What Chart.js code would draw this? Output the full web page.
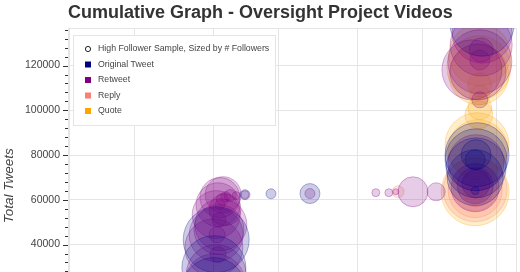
<!DOCTYPE html>
<html>
<head>
<meta charset="utf-8">
<script src="https://cdn.jsdelivr.net/npm/chart.js@4.4.1/dist/chart.umd.min.js"></script>
<style>
  html, body { margin: 0; padding: 0; background: #fff; overflow: hidden; }
  #wrap { width: 520px; height: 272px; overflow: hidden; }
</style>
</head>
<body>
<div id="wrap"><canvas id="tweets" width="520" height="358"></canvas></div>
<script>
// each point: [day since Jul 1, cumulative total tweets, followers (thousands)]
const originalTweet = [
  [31.0, 19900, 1024], [31.0, 29700, 1024], [31.5, 42200, 1089],
  [37.7, 62300, 25], [43.3, 62700, 25], [51.7, 62800, 100],
  [88.8, 138500, 1024],
  [87.7, 80200, 1024], [87.5, 77900, 961], [87.5, 74300, 900], [87.3, 69900, 784],
  [87.5, 80200, 225], [87.3, 77900, 100], [87.3, 64100, 16]
];
const retweet = [
  [31.2, 22100, 961], [31.5, 26600, 900], [31.0, 38600, 841], [32.5, 48900, 676],
  [31.5, 44400, 729], [32.1, 46700, 625],
  [31.5, 53400, 576], [31.9, 57800, 484], [32.3, 61000, 400], [33.0, 62300, 324],
  [33.4, 55600, 256],
  [31.9, 35500, 64], [31.7, 44400, 64], [32.1, 51100, 49], [32.3, 57800, 25],
  [32.8, 60100, 36], [33.6, 61400, 25], [34.5, 61900, 36], [35.8, 61900, 16],
  [37.7, 62300, 16], [51.7, 62800, 25],
  [65.9, 63200, 16], [68.7, 63200, 16], [70.2, 63600, 9], [73.9, 63600, 225], [78.9, 63600, 81],
  [88.8, 134500, 900], [88.6, 129200, 961], [88.3, 121700, 1024], [87.9, 117200, 784],
  [86.6, 118100, 900], [88.6, 127000, 144], [88.3, 122500, 100], [88.3, 104700, 64],
  [87.5, 76600, 784], [87.3, 65400, 576], [87.3, 66300, 324], [87.5, 67200, 196]
];
const reply = [
  [70.7, 63600, 36],
  [87.3, 64500, 1024], [87.3, 64100, 729], [87.3, 64900, 484],
  [87.5, 64500, 289], [87.3, 64100, 144], [87.3, 64500, 64]
];
const quote = [
  [87.3, 63600, 1156],
  [88.3, 124800, 961], [88.1, 119000, 1024], [88.1, 115900, 900],
  [88.3, 111400, 144], [88.3, 106900, 100], [88.3, 101100, 144], [88.1, 98000, 196],
  [87.7, 84600, 1024], [87.9, 82400, 900]
];

const seriesNames = ['Original Tweet', 'Retweet', 'Reply', 'Quote'];
const seriesColors = ['0,0,128', '128,0,128', '250,128,114', '255,165,0'];
const xGridDays = [0, 14, 31, 45, 62, 76, 92];   // Jul 1, Jul 15, Aug 1 ... Oct 1
const yTicks = [0, 20000, 40000, 60000, 80000, 100000, 120000];

const toPoints = rows => rows.map(([d, t, f]) => ({ x: d, y: t, r: Math.sqrt(f) }));

const datasets = [originalTweet, retweet, reply, quote].map((rows, i) => ({
  label: seriesNames[i],
  data: toPoints(rows),
  backgroundColor: 'rgba(' + seriesColors[i] + ',0.2)',
  borderColor: 'rgba(' + seriesColors[i] + ',0.3)',
  borderWidth: 1,
  hoverRadius: 0,
  clip: 0
}));

const frame = {
  id: 'frame',
  beforeDatasetsDraw(chart) {
    const { ctx, chartArea: a } = chart;
    ctx.save();
    ctx.strokeStyle = '#e5e5e5';
    ctx.lineWidth = 1;
    ctx.strokeRect(Math.round(a.left) + 0.5, Math.round(a.top) + 0.5, a.width, a.height);
    ctx.restore();
  },
  afterDraw(chart) {
    const { ctx, chartArea: a, scales } = chart;
    const y = scales.y;
    ctx.save();
    // y tick marks (major and minor)
    ctx.strokeStyle = '#333';
    ctx.lineWidth = 1;
    const step = (yTicks[1] - yTicks[0]) / 5;
    ctx.beginPath();
    for (let v = yTicks[0]; v <= y.max; v += step) {
      const py = Math.round(y.getPixelForValue(v)) + 0.5;
      if (py < a.top) continue;
      const len = (v % (step * 5) === 0) ? 5 : 3;
      ctx.moveTo(a.left - len, py);
      ctx.lineTo(a.left, py);
    }
    ctx.stroke();

    // legend
    const bx = a.left + 5, by = a.top + 7;
    ctx.fillStyle = '#fff';
    ctx.fillRect(bx, by, 202, 90);
    ctx.strokeStyle = '#e5e5e5';
    ctx.strokeRect(bx + 0.5, by + 0.5, 202, 90);
    ctx.font = '8.75px "Liberation Sans", Arial, sans-serif';
    ctx.textBaseline = 'middle';
    const rows = ['High Follower Sample, Sized by # Followers'].concat(seriesNames);
    rows.forEach((txt, i) => {
      const ry = by + 14 + i * 15.5;
      if (i === 0) {
        ctx.strokeStyle = '#222';
        ctx.beginPath();
        ctx.arc(bx + 15, ry, 2.6, 0, Math.PI * 2);
        ctx.stroke();
      } else {
        ctx.fillStyle = 'rgb(' + seriesColors[i - 1] + ')';
        ctx.fillRect(bx + 12, ry - 3, 6, 6);
      }
      ctx.fillStyle = '#444';
      ctx.fillText(txt, bx + 25, ry);
    });
    ctx.restore();
  }
};

Chart.defaults.font.family = '"Liberation Sans", Arial, sans-serif';

new Chart(document.getElementById('tweets'), {
  type: 'bubble',
  data: { datasets },
  plugins: [frame],
  options: {
    responsive: false,
    animation: false,
    events: [],
    layout: { autoPadding: false, padding: { left: 0, right: 4, top: 0, bottom: 0 } },
    plugins: {
      legend: { display: false },
      tooltip: { enabled: false },
      title: {
        display: true,
        text: 'Cumulative Graph - Oversight Project Videos',
        align: 'start',
        fullSize: false,
        color: '#333',
        font: { size: 18, weight: 'bold' },
        padding: { top: 2.2, bottom: 4.2 }
      }
    },
    scales: {
      x: {
        type: 'linear',
        min: -0.43,
        max: 96.1,
        afterBuildTicks: s => { s.ticks = xGridDays.map(v => ({ value: v })); },
        afterFit: s => { s.height = 10; },
        ticks: { display: false },
        grid: { color: '#e5e5e5', drawTicks: false },
        border: { display: false }
      },
      y: {
        min: -4300,
        max: 136800,
        afterBuildTicks: s => { s.ticks = yTicks.map(v => ({ value: v })); },
        afterFit: s => { s.width = 68; },
        ticks: {
          color: '#444',
          font: { size: 10.5 },
          padding: 8,
          callback: v => String(v)
        },
        grid: { color: '#e5e5e5', drawTicks: false },
        border: { display: true, color: '#333' },
        title: {
          display: true,
          text: 'Total Tweets',
          color: '#444',
          font: { size: 13.5, style: 'italic' },
          padding: { top: 1.2, bottom: 0 }
        }
      }
    }
  }
});
</script>
</body>
</html>
